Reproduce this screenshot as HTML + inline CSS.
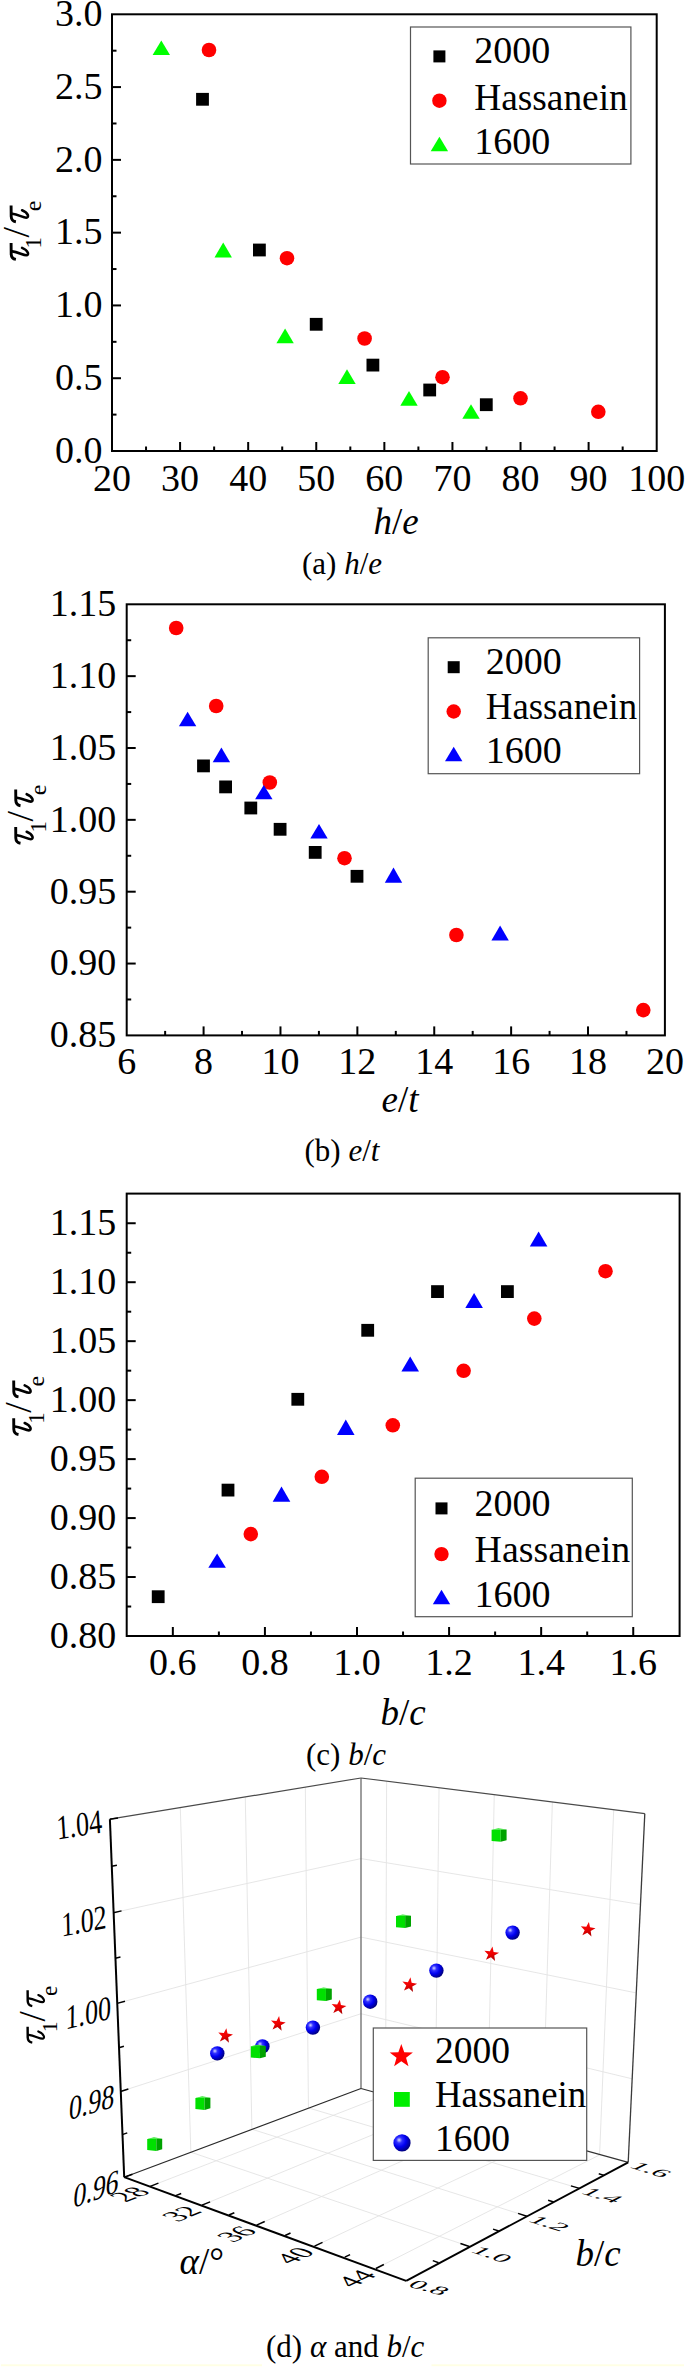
<!DOCTYPE html>
<html><head><meta charset="utf-8"><style>
html,body{margin:0;padding:0;background:#fff;}
svg{display:block;}
</style></head><body>
<svg width="685" height="2367" viewBox="0 0 685 2367" font-family="Liberation Serif, serif">
<rect x="112" y="14.3" width="544.7" height="436.7" fill="none" stroke="#000" stroke-width="2"/>
<line x1="146.04" y1="451" x2="146.04" y2="446.5" stroke="#000" stroke-width="2"/>
<line x1="180.09" y1="451" x2="180.09" y2="442" stroke="#000" stroke-width="2"/>
<line x1="214.13" y1="451" x2="214.13" y2="446.5" stroke="#000" stroke-width="2"/>
<line x1="248.18" y1="451" x2="248.18" y2="442" stroke="#000" stroke-width="2"/>
<line x1="282.22" y1="451" x2="282.22" y2="446.5" stroke="#000" stroke-width="2"/>
<line x1="316.26" y1="451" x2="316.26" y2="442" stroke="#000" stroke-width="2"/>
<line x1="350.31" y1="451" x2="350.31" y2="446.5" stroke="#000" stroke-width="2"/>
<line x1="384.35" y1="451" x2="384.35" y2="442" stroke="#000" stroke-width="2"/>
<line x1="418.39" y1="451" x2="418.39" y2="446.5" stroke="#000" stroke-width="2"/>
<line x1="452.44" y1="451" x2="452.44" y2="442" stroke="#000" stroke-width="2"/>
<line x1="486.48" y1="451" x2="486.48" y2="446.5" stroke="#000" stroke-width="2"/>
<line x1="520.53" y1="451" x2="520.53" y2="442" stroke="#000" stroke-width="2"/>
<line x1="554.57" y1="451" x2="554.57" y2="446.5" stroke="#000" stroke-width="2"/>
<line x1="588.61" y1="451" x2="588.61" y2="442" stroke="#000" stroke-width="2"/>
<line x1="622.66" y1="451" x2="622.66" y2="446.5" stroke="#000" stroke-width="2"/>
<line x1="112" y1="414.61" x2="116.5" y2="414.61" stroke="#000" stroke-width="2"/>
<line x1="112" y1="378.22" x2="121" y2="378.22" stroke="#000" stroke-width="2"/>
<line x1="112" y1="341.82" x2="116.5" y2="341.82" stroke="#000" stroke-width="2"/>
<line x1="112" y1="305.43" x2="121" y2="305.43" stroke="#000" stroke-width="2"/>
<line x1="112" y1="269.04" x2="116.5" y2="269.04" stroke="#000" stroke-width="2"/>
<line x1="112" y1="232.65" x2="121" y2="232.65" stroke="#000" stroke-width="2"/>
<line x1="112" y1="196.26" x2="116.5" y2="196.26" stroke="#000" stroke-width="2"/>
<line x1="112" y1="159.87" x2="121" y2="159.87" stroke="#000" stroke-width="2"/>
<line x1="112" y1="123.48" x2="116.5" y2="123.48" stroke="#000" stroke-width="2"/>
<line x1="112" y1="87.08" x2="121" y2="87.08" stroke="#000" stroke-width="2"/>
<line x1="112" y1="50.69" x2="116.5" y2="50.69" stroke="#000" stroke-width="2"/>
<text x="112" y="490.6" font-size="38" text-anchor="middle" >20</text>
<text x="180.09" y="490.6" font-size="38" text-anchor="middle" >30</text>
<text x="248.18" y="490.6" font-size="38" text-anchor="middle" >40</text>
<text x="316.26" y="490.6" font-size="38" text-anchor="middle" >50</text>
<text x="384.35" y="490.6" font-size="38" text-anchor="middle" >60</text>
<text x="452.44" y="490.6" font-size="38" text-anchor="middle" >70</text>
<text x="520.53" y="490.6" font-size="38" text-anchor="middle" >80</text>
<text x="588.61" y="490.6" font-size="38" text-anchor="middle" >90</text>
<text x="656.7" y="490.6" font-size="38" text-anchor="middle" >100</text>
<text x="102.4" y="462.8" font-size="38" text-anchor="end" >0.0</text>
<text x="102.4" y="390.02" font-size="38" text-anchor="end" >0.5</text>
<text x="102.4" y="317.23" font-size="38" text-anchor="end" >1.0</text>
<text x="102.4" y="244.45" font-size="38" text-anchor="end" >1.5</text>
<text x="102.4" y="171.67" font-size="38" text-anchor="end" >2.0</text>
<text x="102.4" y="98.88" font-size="38" text-anchor="end" >2.5</text>
<text x="102.4" y="26.1" font-size="38" text-anchor="end" >3.0</text>
<text x="373.5" y="533.5" font-size="37"><tspan font-style="italic">h</tspan>/<tspan font-style="italic">e</tspan></text>
<text x="302" y="574" font-size="31">(a) <tspan font-style="italic">h</tspan>/<tspan font-style="italic">e</tspan></text>
<g transform="translate(28.5,260.6) rotate(-90)"><g transform="translate(0.3,0) scale(1.0)"><path d="M0.9,-12.6 C1.4,-15.6 3.2,-17.2 6.2,-17.3 L17.2,-17.4" fill="none" stroke="#000" stroke-width="2.9" stroke-linecap="butt"/><path d="M8.9,-16.2 C8.4,-10.5 5.0,-5.5 5.0,-2.2 C5.0,0.6 9.6,0.4 12.4,-6.4" fill="none" stroke="#000" stroke-width="2.6" stroke-linecap="round"/></g><text x="12" y="12.4" font-size="22.5">1</text><text x="23" y="0.2" font-size="38">/</text><g transform="translate(37.9,0) scale(1.0)"><path d="M0.9,-12.6 C1.4,-15.6 3.2,-17.2 6.2,-17.3 L17.2,-17.4" fill="none" stroke="#000" stroke-width="2.9" stroke-linecap="butt"/><path d="M8.9,-16.2 C8.4,-10.5 5.0,-5.5 5.0,-2.2 C5.0,0.6 9.6,0.4 12.4,-6.4" fill="none" stroke="#000" stroke-width="2.6" stroke-linecap="round"/></g><text x="49.3" y="12.9" font-size="24">e</text></g>
<rect x="196.1" y="92.9" width="12.8" height="12.8" fill="#000"/>
<rect x="253" y="243.6" width="12.8" height="12.8" fill="#000"/>
<rect x="309.8" y="317.9" width="12.8" height="12.8" fill="#000"/>
<rect x="366.5" y="358.7" width="12.8" height="12.8" fill="#000"/>
<rect x="423.3" y="383.6" width="12.8" height="12.8" fill="#000"/>
<rect x="479.9" y="398.3" width="12.8" height="12.8" fill="#000"/>
<circle cx="209" cy="50" r="7.3" fill="#f00"/>
<circle cx="287" cy="258.2" r="7.3" fill="#f00"/>
<circle cx="364.6" cy="338.5" r="7.3" fill="#f00"/>
<circle cx="442.5" cy="377.2" r="7.3" fill="#f00"/>
<circle cx="520.5" cy="398.3" r="7.3" fill="#f00"/>
<circle cx="598.3" cy="411.8" r="7.3" fill="#f00"/>
<polygon points="161.3,40.4 170,55 152.6,55" fill="#0f0"/>
<polygon points="223.2,242.6 231.9,257.4 214.5,257.4" fill="#0f0"/>
<polygon points="285.1,328.4 293.8,343.3 276.4,343.3" fill="#0f0"/>
<polygon points="347,369.2 355.7,384.1 338.3,384.1" fill="#0f0"/>
<polygon points="409,391.1 417.7,405.7 400.3,405.7" fill="#0f0"/>
<polygon points="471,404.2 479.7,418.8 462.3,418.8" fill="#0f0"/>
<rect x="410.5" y="27" width="220.4" height="137" fill="#fff" stroke="#555" stroke-width="1.2"/>
<rect x="433.4" y="50.4" width="12" height="12" fill="#000"/>
<circle cx="439.4" cy="100.7" r="7.2" fill="#f00"/>
<polygon points="439.4,136.7 448.1,151.3 430.7,151.3" fill="#0f0"/>
<text x="474.2" y="63.4" font-size="38" text-anchor="start" >2000</text>
<text x="474.2" y="109.7" font-size="38" text-anchor="start" textLength="153.6" lengthAdjust="spacingAndGlyphs">Hassanein</text>
<text x="474.2" y="153.5" font-size="38" text-anchor="start" >1600</text>
<rect x="126.7" y="604.3" width="538.2" height="431.1" fill="none" stroke="#000" stroke-width="2"/>
<line x1="165.14" y1="1035.4" x2="165.14" y2="1030.9" stroke="#000" stroke-width="2"/>
<line x1="203.59" y1="1035.4" x2="203.59" y2="1026.4" stroke="#000" stroke-width="2"/>
<line x1="242.03" y1="1035.4" x2="242.03" y2="1030.9" stroke="#000" stroke-width="2"/>
<line x1="280.47" y1="1035.4" x2="280.47" y2="1026.4" stroke="#000" stroke-width="2"/>
<line x1="318.91" y1="1035.4" x2="318.91" y2="1030.9" stroke="#000" stroke-width="2"/>
<line x1="357.36" y1="1035.4" x2="357.36" y2="1026.4" stroke="#000" stroke-width="2"/>
<line x1="395.8" y1="1035.4" x2="395.8" y2="1030.9" stroke="#000" stroke-width="2"/>
<line x1="434.24" y1="1035.4" x2="434.24" y2="1026.4" stroke="#000" stroke-width="2"/>
<line x1="472.69" y1="1035.4" x2="472.69" y2="1030.9" stroke="#000" stroke-width="2"/>
<line x1="511.13" y1="1035.4" x2="511.13" y2="1026.4" stroke="#000" stroke-width="2"/>
<line x1="549.57" y1="1035.4" x2="549.57" y2="1030.9" stroke="#000" stroke-width="2"/>
<line x1="588.01" y1="1035.4" x2="588.01" y2="1026.4" stroke="#000" stroke-width="2"/>
<line x1="626.46" y1="1035.4" x2="626.46" y2="1030.9" stroke="#000" stroke-width="2"/>
<line x1="126.7" y1="999.48" x2="131.2" y2="999.48" stroke="#000" stroke-width="2"/>
<line x1="126.7" y1="963.55" x2="135.7" y2="963.55" stroke="#000" stroke-width="2"/>
<line x1="126.7" y1="927.62" x2="131.2" y2="927.62" stroke="#000" stroke-width="2"/>
<line x1="126.7" y1="891.7" x2="135.7" y2="891.7" stroke="#000" stroke-width="2"/>
<line x1="126.7" y1="855.78" x2="131.2" y2="855.78" stroke="#000" stroke-width="2"/>
<line x1="126.7" y1="819.85" x2="135.7" y2="819.85" stroke="#000" stroke-width="2"/>
<line x1="126.7" y1="783.93" x2="131.2" y2="783.93" stroke="#000" stroke-width="2"/>
<line x1="126.7" y1="748" x2="135.7" y2="748" stroke="#000" stroke-width="2"/>
<line x1="126.7" y1="712.08" x2="131.2" y2="712.08" stroke="#000" stroke-width="2"/>
<line x1="126.7" y1="676.15" x2="135.7" y2="676.15" stroke="#000" stroke-width="2"/>
<line x1="126.7" y1="640.22" x2="131.2" y2="640.22" stroke="#000" stroke-width="2"/>
<text x="126.7" y="1073.8" font-size="38" text-anchor="middle" >6</text>
<text x="203.59" y="1073.8" font-size="38" text-anchor="middle" >8</text>
<text x="280.47" y="1073.8" font-size="38" text-anchor="middle" >10</text>
<text x="357.36" y="1073.8" font-size="38" text-anchor="middle" >12</text>
<text x="434.24" y="1073.8" font-size="38" text-anchor="middle" >14</text>
<text x="511.13" y="1073.8" font-size="38" text-anchor="middle" >16</text>
<text x="588.01" y="1073.8" font-size="38" text-anchor="middle" >18</text>
<text x="664.9" y="1073.8" font-size="38" text-anchor="middle" >20</text>
<text x="116.2" y="1047.2" font-size="38" text-anchor="end" >0.85</text>
<text x="116.2" y="975.35" font-size="38" text-anchor="end" >0.90</text>
<text x="116.2" y="903.5" font-size="38" text-anchor="end" >0.95</text>
<text x="116.2" y="831.65" font-size="38" text-anchor="end" >1.00</text>
<text x="116.2" y="759.8" font-size="38" text-anchor="end" >1.05</text>
<text x="116.2" y="687.95" font-size="38" text-anchor="end" >1.10</text>
<text x="116.2" y="616.1" font-size="38" text-anchor="end" >1.15</text>
<text x="381.5" y="1111.5" font-size="37"><tspan font-style="italic">e</tspan>/<tspan font-style="italic">t</tspan></text>
<text x="304.5" y="1161" font-size="31">(b) <tspan font-style="italic">e</tspan>/<tspan font-style="italic">t</tspan></text>
<g transform="translate(33.1,844.5) rotate(-90)"><g transform="translate(0.3,0) scale(1.0)"><path d="M0.9,-12.6 C1.4,-15.6 3.2,-17.2 6.2,-17.3 L17.2,-17.4" fill="none" stroke="#000" stroke-width="2.9" stroke-linecap="butt"/><path d="M8.9,-16.2 C8.4,-10.5 5.0,-5.5 5.0,-2.2 C5.0,0.6 9.6,0.4 12.4,-6.4" fill="none" stroke="#000" stroke-width="2.6" stroke-linecap="round"/></g><text x="12" y="12.4" font-size="22.5">1</text><text x="23" y="0.2" font-size="38">/</text><g transform="translate(37.9,0) scale(1.0)"><path d="M0.9,-12.6 C1.4,-15.6 3.2,-17.2 6.2,-17.3 L17.2,-17.4" fill="none" stroke="#000" stroke-width="2.9" stroke-linecap="butt"/><path d="M8.9,-16.2 C8.4,-10.5 5.0,-5.5 5.0,-2.2 C5.0,0.6 9.6,0.4 12.4,-6.4" fill="none" stroke="#000" stroke-width="2.6" stroke-linecap="round"/></g><text x="49.3" y="12.9" font-size="24">e</text></g>
<rect x="197.1" y="759.5" width="12.8" height="12.8" fill="#000"/>
<rect x="219.2" y="780.5" width="12.8" height="12.8" fill="#000"/>
<rect x="244.4" y="801.6" width="12.8" height="12.8" fill="#000"/>
<rect x="273.7" y="822.9" width="12.8" height="12.8" fill="#000"/>
<rect x="308.8" y="846" width="12.8" height="12.8" fill="#000"/>
<rect x="350.6" y="869.9" width="12.8" height="12.8" fill="#000"/>
<circle cx="176.2" cy="628" r="7.3" fill="#f00"/>
<circle cx="216.2" cy="706" r="7.3" fill="#f00"/>
<circle cx="269.8" cy="782.5" r="7.3" fill="#f00"/>
<circle cx="344.5" cy="858.2" r="7.3" fill="#f00"/>
<circle cx="456.4" cy="935" r="7.3" fill="#f00"/>
<circle cx="643.3" cy="1010.1" r="7.3" fill="#f00"/>
<polygon points="187.6,711.7 196.3,726.3 178.9,726.3" fill="#00f"/>
<polygon points="221.4,747.6 230.1,762.2 212.7,762.2" fill="#00f"/>
<polygon points="263.8,785 272.5,799.3 255.1,799.3" fill="#00f"/>
<polygon points="319,824.1 327.7,838.4 310.3,838.4" fill="#00f"/>
<polygon points="393.5,867.6 402.2,882.7 384.8,882.7" fill="#00f"/>
<polygon points="500.1,925.4 508.8,940.5 491.4,940.5" fill="#00f"/>
<rect x="428.2" y="637.8" width="211.4" height="135.9" fill="#fff" stroke="#555" stroke-width="1.2"/>
<rect x="447.7" y="661.2" width="12" height="12" fill="#000"/>
<circle cx="453.7" cy="711.5" r="7.2" fill="#f00"/>
<polygon points="453.7,746.7 462.4,761.3 445,761.3" fill="#00f"/>
<text x="485.8" y="674.3" font-size="38" text-anchor="start" >2000</text>
<text x="485.8" y="718.8" font-size="38" text-anchor="start" textLength="151.3" lengthAdjust="spacingAndGlyphs">Hassanein</text>
<text x="485.8" y="762.8" font-size="38" text-anchor="start" >1600</text>
<rect x="126.7" y="1193.6" width="552.9" height="442.4" fill="none" stroke="#000" stroke-width="2"/>
<line x1="172.84" y1="1636" x2="172.84" y2="1627" stroke="#000" stroke-width="2"/>
<line x1="218.88" y1="1636" x2="218.88" y2="1631.5" stroke="#000" stroke-width="2"/>
<line x1="264.92" y1="1636" x2="264.92" y2="1627" stroke="#000" stroke-width="2"/>
<line x1="310.96" y1="1636" x2="310.96" y2="1631.5" stroke="#000" stroke-width="2"/>
<line x1="357" y1="1636" x2="357" y2="1627" stroke="#000" stroke-width="2"/>
<line x1="403.04" y1="1636" x2="403.04" y2="1631.5" stroke="#000" stroke-width="2"/>
<line x1="449.08" y1="1636" x2="449.08" y2="1627" stroke="#000" stroke-width="2"/>
<line x1="495.12" y1="1636" x2="495.12" y2="1631.5" stroke="#000" stroke-width="2"/>
<line x1="541.16" y1="1636" x2="541.16" y2="1627" stroke="#000" stroke-width="2"/>
<line x1="587.2" y1="1636" x2="587.2" y2="1631.5" stroke="#000" stroke-width="2"/>
<line x1="633.24" y1="1636" x2="633.24" y2="1627" stroke="#000" stroke-width="2"/>
<line x1="126.7" y1="1606.52" x2="131.2" y2="1606.52" stroke="#000" stroke-width="2"/>
<line x1="126.7" y1="1577.03" x2="135.7" y2="1577.03" stroke="#000" stroke-width="2"/>
<line x1="126.7" y1="1547.55" x2="131.2" y2="1547.55" stroke="#000" stroke-width="2"/>
<line x1="126.7" y1="1518.07" x2="135.7" y2="1518.07" stroke="#000" stroke-width="2"/>
<line x1="126.7" y1="1488.59" x2="131.2" y2="1488.59" stroke="#000" stroke-width="2"/>
<line x1="126.7" y1="1459.11" x2="135.7" y2="1459.11" stroke="#000" stroke-width="2"/>
<line x1="126.7" y1="1429.62" x2="131.2" y2="1429.62" stroke="#000" stroke-width="2"/>
<line x1="126.7" y1="1400.14" x2="135.7" y2="1400.14" stroke="#000" stroke-width="2"/>
<line x1="126.7" y1="1370.66" x2="131.2" y2="1370.66" stroke="#000" stroke-width="2"/>
<line x1="126.7" y1="1341.17" x2="135.7" y2="1341.17" stroke="#000" stroke-width="2"/>
<line x1="126.7" y1="1311.69" x2="131.2" y2="1311.69" stroke="#000" stroke-width="2"/>
<line x1="126.7" y1="1282.21" x2="135.7" y2="1282.21" stroke="#000" stroke-width="2"/>
<line x1="126.7" y1="1252.73" x2="131.2" y2="1252.73" stroke="#000" stroke-width="2"/>
<line x1="126.7" y1="1223.24" x2="135.7" y2="1223.24" stroke="#000" stroke-width="2"/>
<text x="172.84" y="1675" font-size="38" text-anchor="middle" >0.6</text>
<text x="264.92" y="1675" font-size="38" text-anchor="middle" >0.8</text>
<text x="357" y="1675" font-size="38" text-anchor="middle" >1.0</text>
<text x="449.08" y="1675" font-size="38" text-anchor="middle" >1.2</text>
<text x="541.16" y="1675" font-size="38" text-anchor="middle" >1.4</text>
<text x="633.24" y="1675" font-size="38" text-anchor="middle" >1.6</text>
<text x="116.2" y="1647.8" font-size="38" text-anchor="end" >0.80</text>
<text x="116.2" y="1588.83" font-size="38" text-anchor="end" >0.85</text>
<text x="116.2" y="1529.87" font-size="38" text-anchor="end" >0.90</text>
<text x="116.2" y="1470.9" font-size="38" text-anchor="end" >0.95</text>
<text x="116.2" y="1411.94" font-size="38" text-anchor="end" >1.00</text>
<text x="116.2" y="1352.97" font-size="38" text-anchor="end" >1.05</text>
<text x="116.2" y="1294.01" font-size="38" text-anchor="end" >1.10</text>
<text x="116.2" y="1235.04" font-size="38" text-anchor="end" >1.15</text>
<text x="380.5" y="1725" font-size="37"><tspan font-style="italic">b</tspan>/<tspan font-style="italic">c</tspan></text>
<text x="306" y="1765" font-size="31">(c) <tspan font-style="italic">b</tspan>/<tspan font-style="italic">c</tspan></text>
<g transform="translate(31.1,1435.7) rotate(-90)"><g transform="translate(0.3,0) scale(1.0)"><path d="M0.9,-12.6 C1.4,-15.6 3.2,-17.2 6.2,-17.3 L17.2,-17.4" fill="none" stroke="#000" stroke-width="2.9" stroke-linecap="butt"/><path d="M8.9,-16.2 C8.4,-10.5 5.0,-5.5 5.0,-2.2 C5.0,0.6 9.6,0.4 12.4,-6.4" fill="none" stroke="#000" stroke-width="2.6" stroke-linecap="round"/></g><text x="12" y="12.4" font-size="22.5">1</text><text x="23" y="0.2" font-size="38">/</text><g transform="translate(37.9,0) scale(1.0)"><path d="M0.9,-12.6 C1.4,-15.6 3.2,-17.2 6.2,-17.3 L17.2,-17.4" fill="none" stroke="#000" stroke-width="2.9" stroke-linecap="butt"/><path d="M8.9,-16.2 C8.4,-10.5 5.0,-5.5 5.0,-2.2 C5.0,0.6 9.6,0.4 12.4,-6.4" fill="none" stroke="#000" stroke-width="2.6" stroke-linecap="round"/></g><text x="49.3" y="12.9" font-size="24">e</text></g>
<rect x="151.8" y="1590.3" width="12.8" height="12.8" fill="#000"/>
<rect x="221.6" y="1483.7" width="12.8" height="12.8" fill="#000"/>
<rect x="291.4" y="1392.9" width="12.8" height="12.8" fill="#000"/>
<rect x="361.3" y="1323.9" width="12.8" height="12.8" fill="#000"/>
<rect x="431.1" y="1285.2" width="12.8" height="12.8" fill="#000"/>
<rect x="501" y="1285.2" width="12.8" height="12.8" fill="#000"/>
<circle cx="250.8" cy="1534.1" r="7.3" fill="#f00"/>
<circle cx="321.8" cy="1476.8" r="7.3" fill="#f00"/>
<circle cx="392.8" cy="1425.3" r="7.3" fill="#f00"/>
<circle cx="463.6" cy="1370.8" r="7.3" fill="#f00"/>
<circle cx="534.3" cy="1318.6" r="7.3" fill="#f00"/>
<circle cx="605.5" cy="1271.2" r="7.3" fill="#f00"/>
<polygon points="217.1,1553.4 225.9,1567.8 208.3,1567.8" fill="#00f"/>
<polygon points="281.5,1486.6 290.3,1501.7 272.7,1501.7" fill="#00f"/>
<polygon points="345.8,1419.5 354.6,1435 337,1435" fill="#00f"/>
<polygon points="410.2,1356.5 419,1371.6 401.4,1371.6" fill="#00f"/>
<polygon points="474.1,1292.9 482.9,1307.9 465.3,1307.9" fill="#00f"/>
<polygon points="538.6,1231.5 547.4,1246.6 529.8,1246.6" fill="#00f"/>
<rect x="415.2" y="1478.2" width="217.1" height="138.5" fill="#fff" stroke="#555" stroke-width="1.2"/>
<rect x="435.5" y="1502.4" width="12" height="12" fill="#000"/>
<circle cx="441.5" cy="1554.1" r="7.2" fill="#f00"/>
<polygon points="441.5,1589.7 450.2,1604.3 432.8,1604.3" fill="#00f"/>
<text x="474.6" y="1516.1" font-size="38" text-anchor="start" >2000</text>
<text x="474.6" y="1561.7" font-size="38" text-anchor="start" textLength="155.6" lengthAdjust="spacingAndGlyphs">Hassanein</text>
<text x="474.6" y="1607.1" font-size="38" text-anchor="start" >1600</text>
<g transform="translate(44.5,2043.8) rotate(-90)"><g transform="translate(0.3,0) scale(0.97)"><path d="M0.9,-12.6 C1.4,-15.6 3.2,-17.2 6.2,-17.3 L17.2,-17.4" fill="none" stroke="#000" stroke-width="2.5" stroke-linecap="butt"/><path d="M8.9,-16.2 C8.4,-10.5 5.0,-5.5 5.0,-2.2 C5.0,0.6 9.6,0.4 12.4,-6.4" fill="none" stroke="#000" stroke-width="2.2" stroke-linecap="round"/></g><text x="11.64" y="12.03" font-size="21.82">1</text><text x="22.31" y="0.19" font-size="36.86">/</text><g transform="translate(36.76,0) scale(0.97)"><path d="M0.9,-12.6 C1.4,-15.6 3.2,-17.2 6.2,-17.3 L17.2,-17.4" fill="none" stroke="#000" stroke-width="2.5" stroke-linecap="butt"/><path d="M8.9,-16.2 C8.4,-10.5 5.0,-5.5 5.0,-2.2 C5.0,0.6 9.6,0.4 12.4,-6.4" fill="none" stroke="#000" stroke-width="2.2" stroke-linecap="round"/></g><text x="47.82" y="12.51" font-size="23.28">e</text></g>
<line x1="190.85" y1="2152.2" x2="180.3" y2="1807.68" stroke="#e3e3e3" stroke-width="0.9" />
<line x1="251.89" y1="2129.22" x2="245.27" y2="1797.03" stroke="#e3e3e3" stroke-width="0.9" />
<line x1="308.44" y1="2107.93" x2="305.33" y2="1787.19" stroke="#e3e3e3" stroke-width="0.9" />
<line x1="120.57" y1="2091.49" x2="361.03" y2="2013.73" stroke="#e3e3e3" stroke-width="0.9" />
<line x1="117.09" y1="2003.36" x2="361.03" y2="1937.12" stroke="#e3e3e3" stroke-width="0.9" />
<line x1="113.51" y1="1912.65" x2="361.03" y2="1858.59" stroke="#e3e3e3" stroke-width="0.9" />
<line x1="385.58" y1="2095.03" x2="386.61" y2="1781.31" stroke="#e3e3e3" stroke-width="0.9" />
<line x1="435.28" y1="2108.93" x2="439.06" y2="1787.82" stroke="#e3e3e3" stroke-width="0.9" />
<line x1="487.39" y1="2123.52" x2="494.25" y2="1794.66" stroke="#e3e3e3" stroke-width="0.9" />
<line x1="542.1" y1="2138.83" x2="552.38" y2="1801.88" stroke="#e3e3e3" stroke-width="0.9" />
<line x1="599.59" y1="2154.91" x2="613.72" y2="1809.49" stroke="#e3e3e3" stroke-width="0.9" />
<line x1="361.03" y1="2013.73" x2="631.97" y2="2078.76" stroke="#e3e3e3" stroke-width="0.9" />
<line x1="361.03" y1="1937.12" x2="635.88" y2="1992.85" stroke="#e3e3e3" stroke-width="0.9" />
<line x1="361.03" y1="1858.59" x2="639.91" y2="1904.39" stroke="#e3e3e3" stroke-width="0.9" />
<line x1="150.21" y1="2186.35" x2="385.58" y2="2095.03" stroke="#e3e3e3" stroke-width="0.9" />
<line x1="201.93" y1="2205.18" x2="435.28" y2="2108.93" stroke="#e3e3e3" stroke-width="0.9" />
<line x1="256.61" y1="2225.1" x2="487.39" y2="2123.52" stroke="#e3e3e3" stroke-width="0.9" />
<line x1="314.51" y1="2246.18" x2="542.1" y2="2138.83" stroke="#e3e3e3" stroke-width="0.9" />
<line x1="375.9" y1="2268.54" x2="599.59" y2="2154.91" stroke="#e3e3e3" stroke-width="0.9" />
<line x1="190.85" y1="2152.2" x2="469.33" y2="2246.46" stroke="#e3e3e3" stroke-width="0.9" />
<line x1="251.89" y1="2129.22" x2="526.8" y2="2216.17" stroke="#e3e3e3" stroke-width="0.9" />
<line x1="308.44" y1="2107.93" x2="579.48" y2="2188.4" stroke="#e3e3e3" stroke-width="0.9" />
<line x1="109.9" y1="1819.2" x2="361" y2="1778" stroke="#4a4a4a" stroke-width="1.2" />
<line x1="361" y1="2088.5" x2="361" y2="1778" stroke="#6a6a6a" stroke-width="1.3" />
<line x1="361" y1="1778" x2="644.8" y2="1813.6" stroke="#4a4a4a" stroke-width="1.2" />
<line x1="628.2" y1="2162.3" x2="644.8" y2="1813.6" stroke="#3a3a3a" stroke-width="1.3" />
<line x1="124.2" y1="2177.2" x2="361" y2="2088.5" stroke="#2a2a2a" stroke-width="1.2" />
<line x1="361" y1="2088.5" x2="628.2" y2="2162.3" stroke="#333" stroke-width="1.2" />
<line x1="124.2" y1="2177.2" x2="109.9" y2="1819.2" stroke="#000" stroke-width="2.0" />
<line x1="124.2" y1="2177.2" x2="406.2" y2="2280.8" stroke="#000" stroke-width="1.9" />
<line x1="406.2" y1="2280.8" x2="628.2" y2="2162.3" stroke="#000" stroke-width="1.9" />
<line x1="124.2" y1="2177.2" x2="132.44" y2="2174.19" stroke="#000" stroke-width="1.5" />
<line x1="122.27" y1="2134.61" x2="127.25" y2="2132.87" stroke="#000" stroke-width="1.5" />
<line x1="120.57" y1="2091.49" x2="128.36" y2="2088.97" stroke="#000" stroke-width="1.5" />
<line x1="118.84" y1="2047.74" x2="123.9" y2="2046.24" stroke="#000" stroke-width="1.5" />
<line x1="117.09" y1="2003.36" x2="125.01" y2="2001.21" stroke="#000" stroke-width="1.5" />
<line x1="115.31" y1="1958.34" x2="120.46" y2="1957.08" stroke="#000" stroke-width="1.5" />
<line x1="113.51" y1="1912.65" x2="121.56" y2="1910.89" stroke="#000" stroke-width="1.5" />
<line x1="111.68" y1="1866.29" x2="116.91" y2="1865.29" stroke="#000" stroke-width="1.5" />
<line x1="109.82" y1="1819.24" x2="118.01" y2="1817.89" stroke="#000" stroke-width="1.5" />
<line x1="150.21" y1="2186.35" x2="158.41" y2="2183.16" stroke="#000" stroke-width="1.5" />
<line x1="175.72" y1="2195.64" x2="181.18" y2="2193.45" stroke="#000" stroke-width="1.5" />
<line x1="201.93" y1="2205.18" x2="210.1" y2="2201.82" stroke="#000" stroke-width="1.5" />
<line x1="228.89" y1="2215" x2="234.32" y2="2212.69" stroke="#000" stroke-width="1.5" />
<line x1="256.61" y1="2225.1" x2="264.72" y2="2221.53" stroke="#000" stroke-width="1.5" />
<line x1="285.14" y1="2235.49" x2="290.53" y2="2233.03" stroke="#000" stroke-width="1.5" />
<line x1="314.51" y1="2246.18" x2="322.53" y2="2242.39" stroke="#000" stroke-width="1.5" />
<line x1="344.75" y1="2257.19" x2="350.08" y2="2254.59" stroke="#000" stroke-width="1.5" />
<line x1="375.9" y1="2268.54" x2="383.83" y2="2264.51" stroke="#000" stroke-width="1.5" />
<line x1="438.59" y1="2262.67" x2="432.81" y2="2260.64" stroke="#000" stroke-width="1.5" />
<line x1="469.33" y1="2246.46" x2="460.43" y2="2243.45" stroke="#000" stroke-width="1.5" />
<line x1="498.7" y1="2230.98" x2="493.02" y2="2229.12" stroke="#000" stroke-width="1.5" />
<line x1="526.8" y1="2216.17" x2="518.06" y2="2213.4" stroke="#000" stroke-width="1.5" />
<line x1="553.7" y1="2201.99" x2="548.12" y2="2200.28" stroke="#000" stroke-width="1.5" />
<line x1="579.48" y1="2188.4" x2="570.9" y2="2185.85" stroke="#000" stroke-width="1.5" />
<line x1="604.2" y1="2175.36" x2="598.74" y2="2173.79" stroke="#000" stroke-width="1.5" />
<defs>
<radialGradient id="sph" cx="0.36" cy="0.36" r="0.7" fx="0.33" fy="0.33">
<stop offset="0" stop-color="#d8d8ff"/><stop offset="0.25" stop-color="#3030ff"/><stop offset="0.55" stop-color="#0000f0"/><stop offset="1" stop-color="#000070"/>
</radialGradient>
<linearGradient id="stg" x1="0" y1="0" x2="0.3" y2="1">
<stop offset="0" stop-color="#ff1010"/><stop offset="0.6" stop-color="#ee0000"/><stop offset="1" stop-color="#b00000"/>
</linearGradient>
</defs>
<circle cx="217.3" cy="2053.4" r="7.2" fill="url(#sph)"/>
<circle cx="262.4" cy="2046.4" r="7.2" fill="url(#sph)"/>
<circle cx="312.9" cy="2027.6" r="7.2" fill="url(#sph)"/>
<circle cx="370.2" cy="2001.7" r="7.2" fill="url(#sph)"/>
<circle cx="436.4" cy="1970.6" r="7.2" fill="url(#sph)"/>
<circle cx="512.6" cy="1932.6" r="7.2" fill="url(#sph)"/>
<polygon points="147.2,2138.9 156.35,2138.5 156.35,2150.9 147.2,2150.1" fill="#00e000"/>
<polygon points="156.35,2138.5 162.2,2138.7 162.2,2149.3 156.35,2150.9" fill="#00a200"/>
<polygon points="147.2,2138.9 153.95,2137.3 162.2,2138.7 156.35,2138.5" fill="#2ae82a"/>
<polygon points="195.4,2097.9 204.55,2097.5 204.55,2109.9 195.4,2109.1" fill="#00e000"/>
<polygon points="204.55,2097.5 210.4,2097.7 210.4,2108.3 204.55,2109.9" fill="#00a200"/>
<polygon points="195.4,2097.9 202.15,2096.3 210.4,2097.7 204.55,2097.5" fill="#2ae82a"/>
<polygon points="250.8,2046.3 259.95,2045.9 259.95,2058.3 250.8,2057.5" fill="#00e000"/>
<polygon points="259.95,2045.9 265.8,2046.1 265.8,2056.7 259.95,2058.3" fill="#00a200"/>
<polygon points="250.8,2046.3 257.55,2044.7 265.8,2046.1 259.95,2045.9" fill="#2ae82a"/>
<polygon points="316.8,1989 325.95,1988.6 325.95,2001 316.8,2000.2" fill="#00e000"/>
<polygon points="325.95,1988.6 331.8,1988.8 331.8,1999.4 325.95,2001" fill="#00a200"/>
<polygon points="316.8,1989 323.55,1987.4 331.8,1988.8 325.95,1988.6" fill="#2ae82a"/>
<polygon points="396,1916 405.15,1915.6 405.15,1928 396,1927.2" fill="#00e000"/>
<polygon points="405.15,1915.6 411,1915.8 411,1926.4 405.15,1928" fill="#00a200"/>
<polygon points="396,1916 402.75,1914.4 411,1915.8 405.15,1915.6" fill="#2ae82a"/>
<polygon points="491.6,1829.8 500.75,1829.4 500.75,1841.8 491.6,1841" fill="#00e000"/>
<polygon points="500.75,1829.4 506.6,1829.6 506.6,1840.2 500.75,1841.8" fill="#00a200"/>
<polygon points="491.6,1829.8 498.35,1828.2 506.6,1829.6 500.75,1829.4" fill="#2ae82a"/>
<polygon points="226.39,2028.18 227.52,2033.6 232.98,2034.55 228.18,2037.3 228.96,2042.79 224.85,2039.07 219.88,2041.51 222.15,2036.46 218.29,2032.48 223.8,2033.07" fill="url(#stg)"/>
<polygon points="279.09,2016.08 280.22,2021.5 285.68,2022.45 280.88,2025.2 281.66,2030.69 277.55,2026.97 272.58,2029.41 274.85,2024.36 270.99,2020.38 276.5,2020.97" fill="url(#stg)"/>
<polygon points="339.79,1999.68 340.92,2005.1 346.38,2006.05 341.58,2008.8 342.36,2014.29 338.25,2010.57 333.28,2013.01 335.55,2007.96 331.69,2003.98 337.2,2004.57" fill="url(#stg)"/>
<polygon points="410.49,1977.28 411.62,1982.7 417.08,1983.65 412.28,1986.4 413.06,1991.89 408.95,1988.17 403.98,1990.61 406.25,1985.56 402.39,1981.58 407.9,1982.17" fill="url(#stg)"/>
<polygon points="492.49,1946.48 493.62,1951.9 499.08,1952.85 494.28,1955.6 495.06,1961.09 490.95,1957.37 485.98,1959.81 488.25,1954.76 484.39,1950.78 489.9,1951.37" fill="url(#stg)"/>
<polygon points="588.89,1921.88 590.02,1927.3 595.48,1928.25 590.68,1931 591.46,1936.49 587.35,1932.77 582.38,1935.21 584.65,1930.16 580.79,1926.18 586.3,1926.77" fill="url(#stg)"/>
<rect x="373.3" y="2028" width="213.4" height="132.4" fill="#fff" stroke="#555" stroke-width="1.2"/>
<polygon points="401.3,2044.1 404.24,2052.25 412.9,2052.53 406.06,2057.85 408.47,2066.17 401.3,2061.3 394.13,2066.17 396.54,2057.85 389.7,2052.53 398.36,2052.25" fill="#f00"/>
<rect x="394" y="2092" width="15.8" height="14.8" fill="#00ee00"/>
<circle cx="402" cy="2142.9" r="8.6" fill="url(#sph)"/>
<text x="435" y="2063.2" font-size="37.5">2000</text>
<text x="435" y="2106.8" font-size="37.5" textLength="151.2" lengthAdjust="spacingAndGlyphs">Hassanein</text>
<text x="435" y="2151" font-size="37.5">1600</text>
<text x="179.5" y="2273.7" font-size="37"><tspan font-style="italic">α</tspan>/°</text>
<text x="575.5" y="2265.5" font-size="37"><tspan font-style="italic">b</tspan>/<tspan font-style="italic">c</tspan></text>
<text x="266" y="2357.3" font-size="31">(d) <tspan font-style="italic">α</tspan> and <tspan font-style="italic">b</tspan>/<tspan font-style="italic">c</tspan></text>
<text transform="matrix(0.72,-0.11,0.06,0.95,102.6,1832.5)" font-size="36" text-anchor="end">1.04</text>
<text transform="matrix(0.72,-0.14,0.02,0.95,106.8,1928)" font-size="36" text-anchor="end">1.02</text>
<text transform="matrix(0.72,-0.17,-0.01,0.95,110.9,2018.8)" font-size="36" text-anchor="end">1.00</text>
<text transform="matrix(0.72,-0.21,-0.07,0.95,113.6,2107)" font-size="36" text-anchor="end">0.98</text>
<text transform="matrix(0.72,-0.26,-0.09,0.95,117.8,2191.8)" font-size="36" text-anchor="end">0.96</text>
<text transform="matrix(0.73,-0.28,0.75,0.27,142.75,2189.24)" font-size="36" text-anchor="end" dominant-baseline="central">28</text>
<text transform="matrix(0.72,-0.3,0.75,0.27,194.54,2208.23)" font-size="36" text-anchor="end" dominant-baseline="central">32</text>
<text transform="matrix(0.71,-0.31,0.75,0.27,249.29,2228.32)" font-size="36" text-anchor="end" dominant-baseline="central">36</text>
<text transform="matrix(0.71,-0.33,0.75,0.27,307.27,2249.59)" font-size="36" text-anchor="end" dominant-baseline="central">40</text>
<text transform="matrix(0.7,-0.35,0.75,0.27,368.77,2272.16)" font-size="36" text-anchor="end" dominant-baseline="central">44</text>
<text transform="matrix(0.77,0.22,-0.44,0.27,411.96,2282.47)" font-size="36" text-anchor="start" dominant-baseline="central">0.8</text>
<text transform="matrix(0.76,0.26,-0.46,0.24,475.01,2248.38)" font-size="36" text-anchor="start" dominant-baseline="central">1.0</text>
<text transform="matrix(0.76,0.24,-0.46,0.24,532.52,2217.98)" font-size="36" text-anchor="start" dominant-baseline="central">1.2</text>
<text transform="matrix(0.77,0.23,-0.46,0.24,585.23,2190.1)" font-size="36" text-anchor="start" dominant-baseline="central">1.4</text>
<text transform="matrix(0.76,0.24,-0.47,0.23,633.91,2164.14)" font-size="36" text-anchor="start" dominant-baseline="central">1.6</text>

<rect x="1" y="2364.3" width="261" height="1.9" fill="#ffffe4"/><rect x="431.5" y="2364.3" width="252.5" height="1.9" fill="#ffffe4"/>
</svg>
</body></html>
